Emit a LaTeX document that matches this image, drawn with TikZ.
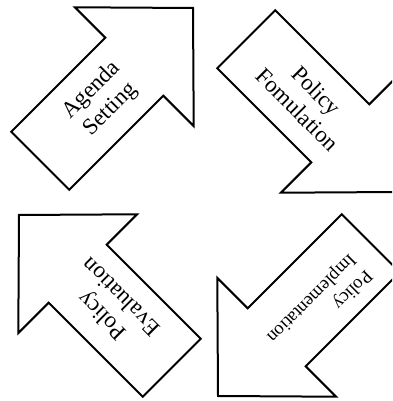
\documentclass[tikz,border=0pt]{standalone}
\usepackage{fontspec}
\setmainfont{Liberation Serif}
\tikzset{
    labelX/.store in=\arrowLabelX, labelX=-130,
    labelY/.store in=\arrowLabelY, labelY=0,
    arrowLabel/.style={transform shape, align=center, inner sep=0pt}
}
\tikzset{
    policyArrow/.pic={
		\draw[black, line width=2pt, line join=miter] (0,0) -- (-83,84) -- (-83,41) -- (-216,41)
			-- (-216,-41) -- (-83,-41) -- (-83,-84) -- cycle;
		\node[arrowLabel] (-label) at (\arrowLabelX,\arrowLabelY) {#1};
	}
}

\begin{document}
\begin{tikzpicture}[x=1pt, y=1pt, font=\fontsize{23}{27}\selectfont]
	\useasboundingbox (0,0) rectangle (392,401);
	\clip (0,0) rectangle (392,401);
	\pic[rotate=45] (agenda) at (193,393) {policyArrow={Agenda\\Setting}};
	\pic[rotate=-45] (formulation) at (399,209) {policyArrow={Policy\\Fomulation}};
	\pic[rotate=135] (evaluation) at (19,186) {policyArrow={Policy\\Evaluation}};
	\pic[rotate=-135, labelX=-135, labelY=8, arrowLabel/.append style={align=left},
		font=\fontsize{18.5}{23}\selectfont] (implementation) at (218,5) {policyArrow={Policy\\Implementation}};
\end{tikzpicture}
\end{document}
